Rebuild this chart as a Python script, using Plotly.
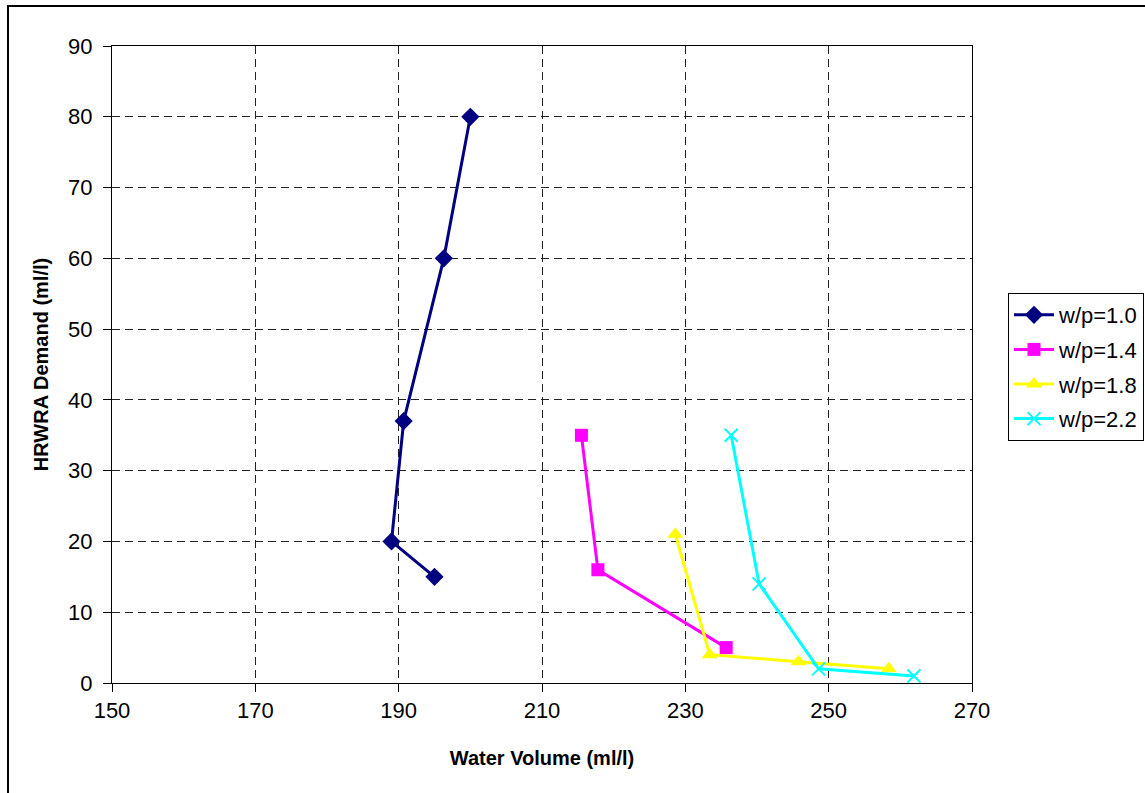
import plotly.graph_objects as go

# Water volume (ml/l) and HRWRA demand (ml/l) for each w/p ratio
wp10_water = [200.0, 196.3, 190.7, 189.0, 195.0]
wp10_demand = [80, 60, 37, 20, 15]

wp14_water = [215.5, 217.8, 235.7]
wp14_demand = [35, 16, 5]

wp18_water = [228.6, 233.4, 245.8, 258.4]
wp18_demand = [21, 4, 3, 2]

wp22_water = [236.4, 240.3, 248.6, 261.9]
wp22_demand = [35, 14, 2, 1]

series_names = ["w/p=1.0", "w/p=1.4", "w/p=1.8", "w/p=2.2"]

x_ticks = [150, 170, 190, 210, 230, 250, 270]
y_ticks = [0, 10, 20, 30, 40, 50, 60, 70, 80, 90]

FONT = "Liberation Sans, Arial, sans-serif"

styles = [
    dict(color="#000080", symbol="diamond", size=14),
    dict(color="#FF00FF", symbol="square", size=13),
    dict(color="#FFFF00", symbol="triangle-up", size=14),
    dict(color="#00FFFF", symbol="x-thin", size=13),
]
data = [
    (wp10_water, wp10_demand),
    (wp14_water, wp14_demand),
    (wp18_water, wp18_demand),
    (wp22_water, wp22_demand),
]

fig = go.Figure()
for i, ((xs, ys), st, name) in enumerate(zip(data, styles, series_names)):
    marker = dict(color=st["color"], symbol=st["symbol"], size=st["size"])
    if st["symbol"] == "x-thin":
        marker["line"] = dict(color=st["color"], width=2)
    fig.add_trace(go.Scatter(
        x=xs, y=ys, name=name, mode="lines+markers",
        line=dict(color=st["color"], width=3),
        marker=marker,
        legendgroup=f"g{i}",
    ))

axis_common = dict(
    showline=True, linecolor="black", linewidth=1, mirror=True,
    ticks="outside", ticklen=8, tickcolor="black", tickwidth=1,
    showgrid=True, gridcolor="#222222", gridwidth=1, griddash="8px,5px",
    zeroline=False,
    tickfont=dict(family=FONT, size=22, color="black"),
)

fig.update_xaxes(
    range=[150, 270], tickvals=x_ticks, ticktext=[str(v) for v in x_ticks],
    title=dict(text="<b>Water Volume (ml/l)</b>",
               font=dict(family=FONT, size=20, color="black"), standoff=28),
    **axis_common,
)
fig.update_yaxes(
    range=[0, 90], tickvals=y_ticks, ticktext=[str(v) for v in y_ticks],
    ticklabelstandoff=6,
    title=dict(text="<b>HRWRA Demand (ml/l)</b>",
               font=dict(family=FONT, size=20, color="black"), standoff=14),
    **axis_common,
)

plot_l, plot_r, plot_t, plot_b = 112, 972, 46, 683
W, H = 1145, 793
pw, ph = plot_r - plot_l, plot_b - plot_t

fig.update_layout(
    width=W, height=H,
    margin=dict(l=plot_l, r=W - plot_r, t=plot_t, b=H - plot_b, autoexpand=False),
    paper_bgcolor="white", plot_bgcolor="white",
    font=dict(family=FONT, color="black"),
    legend=dict(
        x=(1008 - plot_l) / pw, y=(plot_b - 293) / ph,
        xanchor="left", yanchor="top",
        bordercolor="black", borderwidth=1, bgcolor="white",
        font=dict(family=FONT, size=22, color="black"),
        tracegroupgap=3, itemwidth=40,
    ),
    shapes=[dict(
        type="rect", xref="paper", yref="paper",
        x0=(8 - plot_l) / pw, x1=(1160 - plot_l) / pw,
        y0=(plot_b - 810) / ph, y1=1 + (plot_t - 6) / ph,
        line=dict(color="black", width=2), layer="below",
    )],
)

fig.write_html("out.html")
